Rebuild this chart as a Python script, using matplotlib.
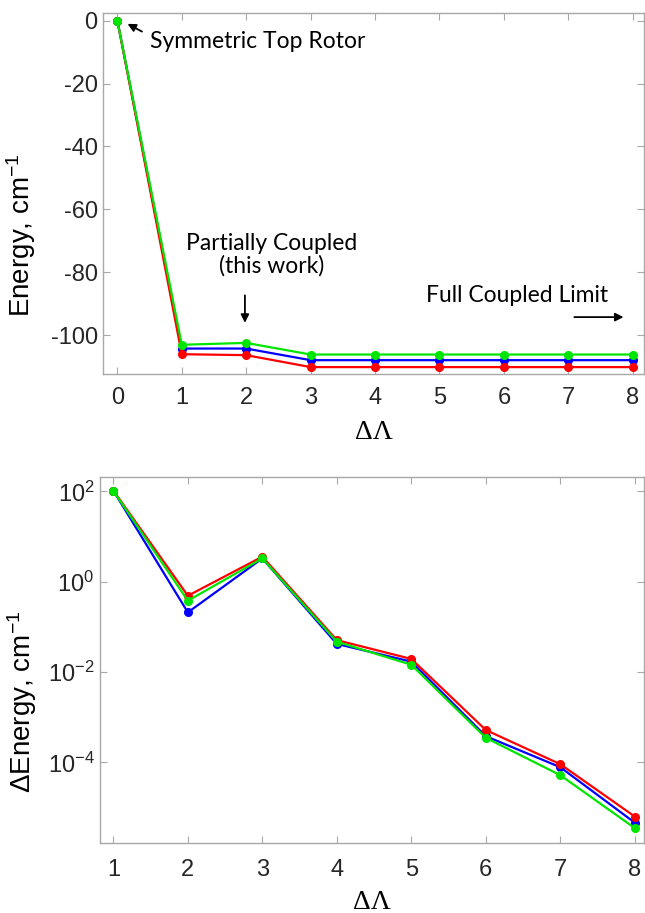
import matplotlib.pyplot as plt

# coupling levels
lam_top = [0, 1, 2, 3, 4, 5, 6, 7, 8]
lam_bot = [1, 2, 3, 4, 5, 6, 7, 8]

# energies, cm^-1
energy_blue = [0, -104.3, -104.3, -108.0, -108.0, -108.0, -108.0, -108.0, -108.0]
energy_red = [0, -106.1, -106.4, -110.2, -110.2, -110.2, -110.2, -110.2, -110.2]
energy_green = [0, -103.1, -102.5, -106.2, -106.2, -106.2, -106.2, -106.2, -106.2]

# energy differences, cm^-1
dE_blue = [104, 0.21, 3.3, 0.042, 0.017, 3.8e-4, 7.8e-5, 4.6e-6]
dE_red = [105, 0.49, 3.6, 0.051, 0.0195, 5.2e-4, 9.1e-5, 6.3e-6]
dE_green = [103, 0.38, 3.3, 0.047, 0.0145, 3.5e-4, 5.2e-5, 3.5e-6]

tick_font = 'Liberation Sans'
note_font = 'Lato'
plt.rcParams['font.family'] = [tick_font, 'DejaVu Sans']
plt.rcParams['axes.unicode_minus'] = False
plt.rcParams['mathtext.fontset'] = 'custom'
plt.rcParams['mathtext.rm'] = tick_font
plt.rcParams['mathtext.it'] = tick_font
plt.rcParams['mathtext.default'] = 'regular'

blue = '#0000ff'
red = '#ff0000'
green = '#00e600'
spine_col = '#a8a8a8'

fig = plt.figure(figsize=(6.45, 9.13), dpi=100)
ax1 = fig.add_axes([0.160, 0.590, 0.838, 0.396])
ax2 = fig.add_axes([0.155, 0.077, 0.843, 0.400])


def style(ax):
    for s in ax.spines.values():
        s.set_color(spine_col)
        s.set_linewidth(1.0)
    ax.tick_params(which='both', direction='in', top=True, right=True,
                   color=spine_col, labelcolor='#262626', labelsize=17)
    ax.tick_params(which='major', length=5)
    ax.tick_params(which='minor', length=2.5)
    ax.tick_params(axis='y', pad=4)


# top panel
for y, c in [(energy_blue, blue), (energy_red, red), (energy_green, green)]:
    ax1.plot(lam_top, y, '-o', color=c, lw=1.6, ms=5.5)
ax1.set_xlim(-0.22, 8.17)
ax1.set_ylim(-112.5, 2.5)
ax1.set_xticks(range(0, 9))
ax1.set_yticks([0, -20, -40, -60, -80, -100])
style(ax1)
ax1.tick_params(axis='x', pad=9)
ax1.set_xlabel('ΔΛ', fontsize=20, family='Liberation Serif', labelpad=8)
ax1.set_ylabel(r'Energy, cm$^{-1}$', fontsize=20)
ax1.yaxis.set_label_coords(-0.12, 0.385)

ax1.annotate('', xy=(0.12, -0.6), xytext=(0.42, -3.9),
             arrowprops=dict(arrowstyle='-|>', color='black', lw=1.3, mutation_scale=12))
ax1.text(0.5, -6.7, 'Symmetric Top Rotor', fontsize=16.5, family=note_font, va='center', ha='left')
ax1.text(2.4, -74.5, 'Partially Coupled\n(this work)', fontsize=16.5, family=note_font,
         ha='center', va='center', linespacing=1.05)
ax1.annotate('', xy=(1.98, -97.0), xytext=(1.98, -86.5),
             arrowprops=dict(arrowstyle='-|>', color='black', lw=1.3, mutation_scale=12))
ax1.text(6.2, -87.3, 'Full Coupled Limit', fontsize=16.5, family=note_font, ha='center', va='center')
ax1.annotate('', xy=(7.9, -94.3), xytext=(7.05, -94.3),
             arrowprops=dict(arrowstyle='-|>', color='black', lw=1.3, mutation_scale=12))

# bottom panel
for y, c in [(dE_blue, blue), (dE_red, red), (dE_green, green)]:
    ax2.plot(lam_bot, y, '-o', color=c, lw=1.6, ms=5.5)
ax2.set_yscale('log')
ax2.set_xlim(0.82, 8.12)
ax2.set_ylim(10 ** -5.78, 10 ** 2.31)
ax2.set_xticks(range(1, 9))
ax2.set_yticks([1e-4, 1e-2, 1e0, 1e2])
ax2.set_yticklabels([r'10$^{-4}$', r'10$^{-2}$', r'10$^{0}$', r'10$^{2}$'])
style(ax2)
ax2.tick_params(axis='x', pad=12)
ax2.set_xlabel('ΔΛ', fontsize=20, family='Liberation Serif', labelpad=6)
ax2.set_ylabel(r'ΔEnergy, cm$^{-1}$', fontsize=20)
ax2.yaxis.set_label_coords(-0.112, 0.385)

fig.savefig('out.png', dpi=100)
